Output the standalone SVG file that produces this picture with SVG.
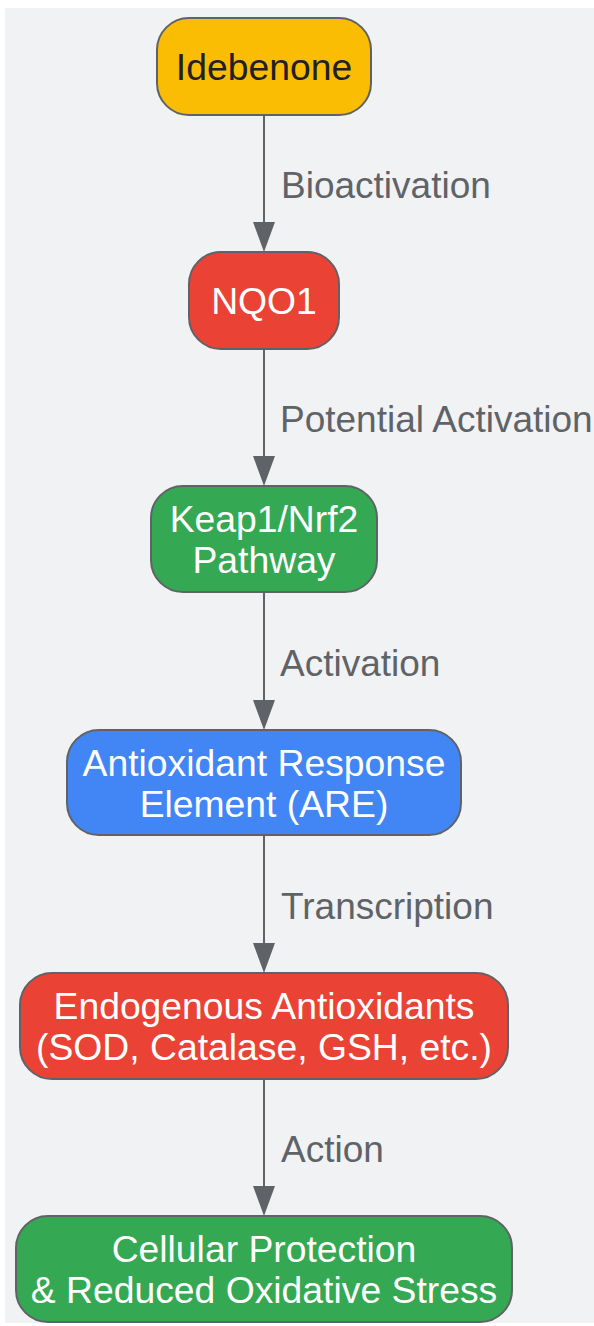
<svg xmlns="http://www.w3.org/2000/svg" width="594" height="1326" viewBox="0 0 594 1326">
<defs>
<style>
.n{stroke:#5f6368;stroke-width:2}
.t{font-family:"Liberation Sans",Arial,sans-serif;font-size:37.3px;text-anchor:middle;fill:#ffffff}
.l{font-family:"Liberation Sans",Arial,sans-serif;font-size:37px;fill:#5f6368}
.e{stroke:#5f6368;stroke-width:2;fill:none}
.a{fill:#5f6368}
</style>
</defs>
<rect x="5" y="8" width="589" height="1315" fill="#f1f2f4"/>
<g id="connectors">
<path class="e" d="M264,115 V222"/><path class="a" d="M253,222 L275,222 L264,252 Z"/>
<path class="e" d="M264,349 V456"/><path class="a" d="M253,456 L275,456 L264,486 Z"/>
<path class="e" d="M264,592 V700"/><path class="a" d="M253,700 L275,700 L264,730 Z"/>
<path class="e" d="M264,835 V943"/><path class="a" d="M253,943 L275,943 L264,973 Z"/>
<path class="e" d="M264,1079 V1186"/><path class="a" d="M253,1186 L275,1186 L264,1216 Z"/>
<text class="l" x="281" y="198">Bioactivation</text>
<text class="l" x="280" y="432">Potential Activation</text>
<text class="l" x="280" y="676">Activation</text>
<text class="l" x="281" y="919">Transcription</text>
<text class="l" x="281" y="1162">Action</text>
</g>
<g id="idebenone">
<rect class="n" x="157" y="18" width="214" height="97" rx="32" fill="#fbbc04"/>
<text class="t" x="264" y="80" style="fill:#202124">Idebenone</text>
</g>
<g id="nqo1">
<rect class="n" x="189" y="252" width="150" height="97" rx="32" fill="#ea4335"/>
<text class="t" x="264" y="314">NQO1</text>
</g>
<g id="keap1">
<rect class="n" x="151" y="486" width="226" height="106" rx="32" fill="#34a853"/>
<text class="t" x="264" y="532">Keap1/Nrf2</text>
<text class="t" x="264" y="573">Pathway</text>
</g>
<g id="are">
<rect class="n" x="67" y="730" width="394" height="105" rx="32" fill="#4285f4"/>
<text class="t" x="264" y="776">Antioxidant Response</text>
<text class="t" x="264" y="817">Element (ARE)</text>
</g>
<g id="endogenous">
<rect class="n" x="20" y="973" width="488" height="106" rx="32" fill="#ea4335"/>
<text class="t" x="264" y="1019">Endogenous Antioxidants</text>
<text class="t" x="264" y="1060">(SOD, Catalase, GSH, etc.)</text>
</g>
<g id="cellular">
<rect class="n" x="16" y="1216" width="496" height="106" rx="32" fill="#34a853"/>
<text class="t" x="264" y="1262">Cellular Protection</text>
<text class="t" x="264" y="1303">&amp; Reduced Oxidative Stress</text>
</g>
</svg>
